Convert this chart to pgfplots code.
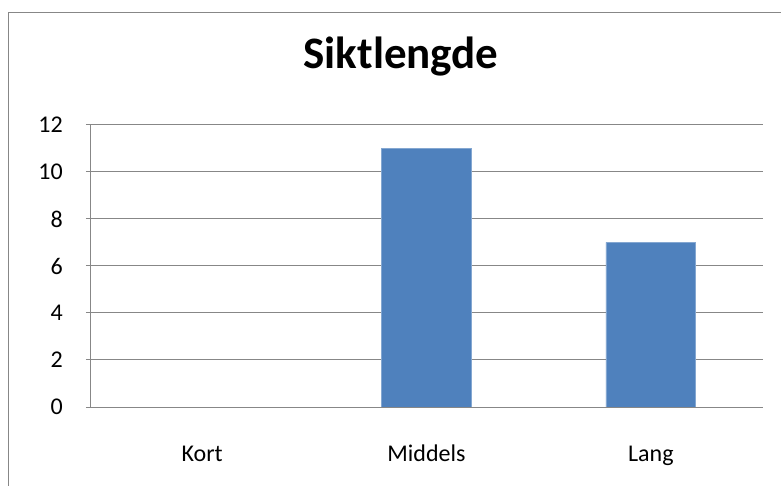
\documentclass[border=0pt]{standalone}
\usepackage{pgfplots}
\pgfplotsset{compat=1.18}
\usepackage{fontspec}
\setmainfont{Carlito}
\definecolor{barblue}{HTML}{4F81BD}
\definecolor{gridgray}{HTML}{878787}
\begin{document}
\begin{tikzpicture}
  % picture size and chart frame
  \path[use as bounding box] (0,0) rectangle (781bp,486bp);
  \draw[gridgray, line width=1.3bp] (8.6bp,0) -- (8.6bp,473.4bp) -- (781bp,473.4bp);
  \node[anchor=base, font=\fontsize{45bp}{50bp}\selectfont\bfseries] at (401bp,417bp) {Siktlengde};
  \begin{axis}[
      at={(90bp,79bp)}, anchor=south west,
      scale only axis,
      width=673bp, height=282bp,
      xmin=-0.5, xmax=2.5,
      ymin=0, ymax=12,
      ytick={0,2,...,12},
      xtick=data,
      xticklabels={Kort, Middels, Lang},
      axis lines*=left,
      axis line style={gridgray, line width=1bp},
      ymajorgrids,
      grid style={gridgray, line width=1bp},
      major tick length=4bp,
      tick align=outside,
      xtick style={draw=none},
      ytick style={gridgray, line width=1bp},
      tick label style={font=\fontsize{24bp}{28bp}\selectfont},
      /pgf/number format/assume math mode=true,
      yticklabel style={anchor=east, inner sep=0pt, xshift=-23bp},
      xticklabel style={anchor=base, inner sep=0pt, yshift=-50bp},
    ]
    \addplot[ybar, bar width=0.4, fill=barblue, draw=barblue!70!white, line width=0.6bp]
      coordinates {(0,0) (1,11) (2,7)};
  \end{axis}
\end{tikzpicture}
\end{document}
